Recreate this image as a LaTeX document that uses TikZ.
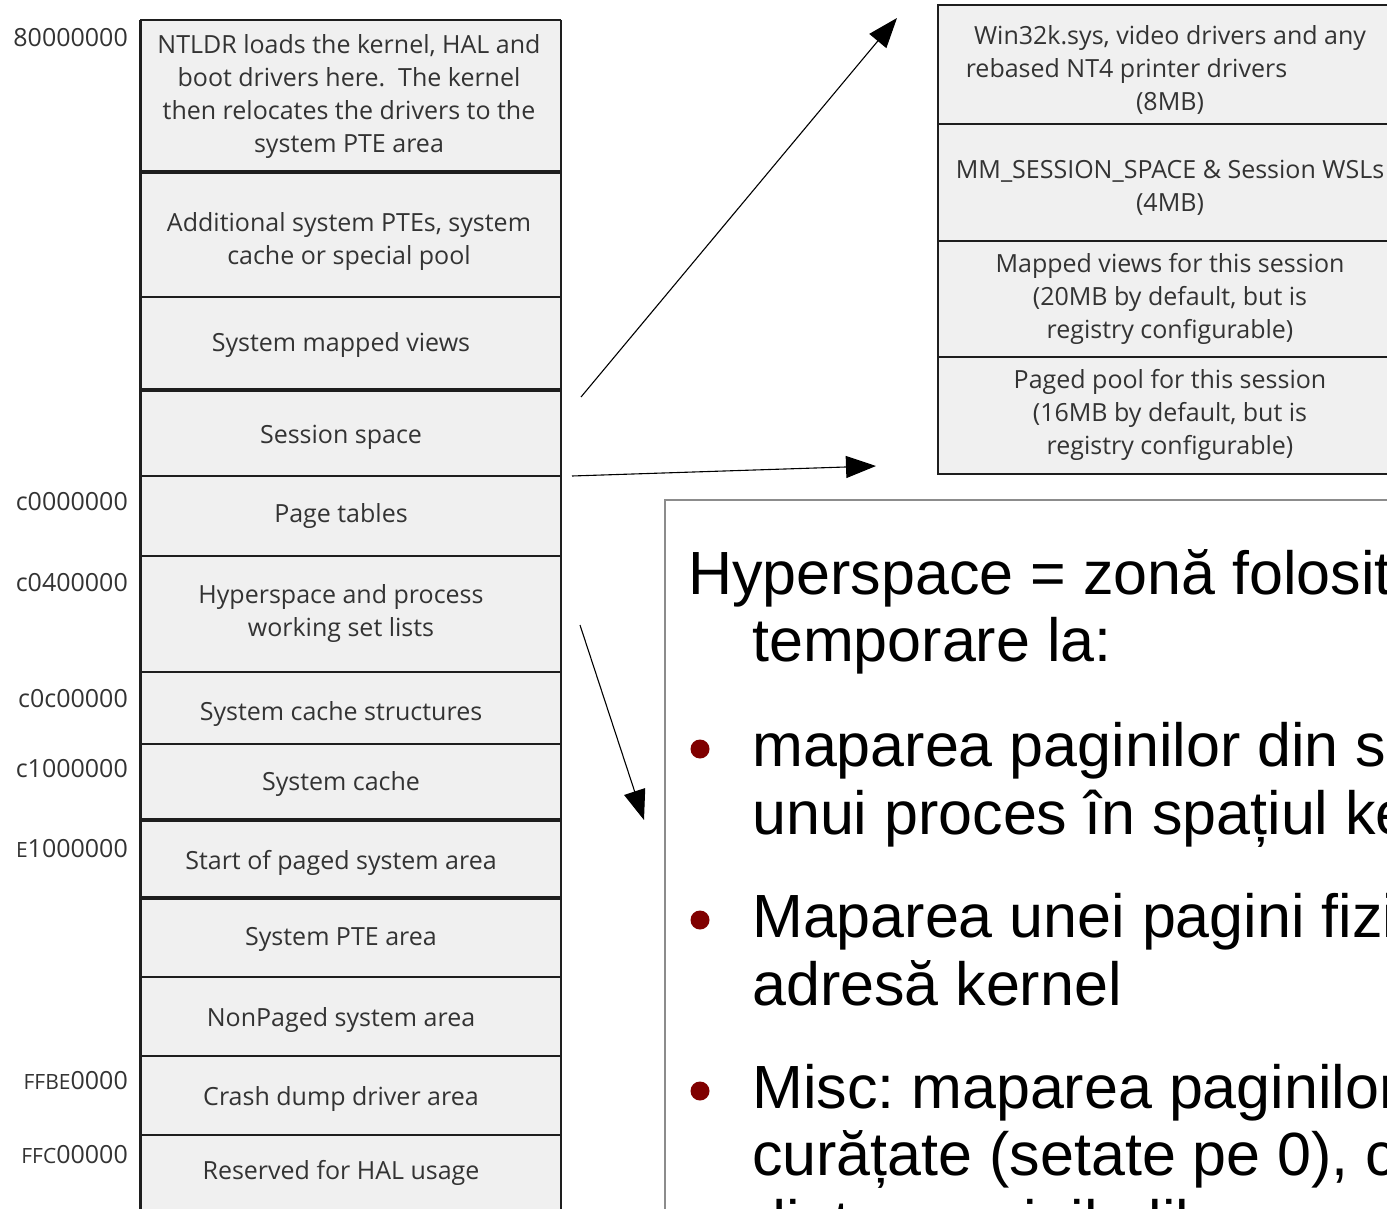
\documentclass[tikz,border=0pt]{standalone}
\usepackage{fontspec}
\setmainfont{Open Sans}
\newfontfamily\slidefont{Liberation Sans}
\usetikzlibrary{arrows.meta}
\definecolor{cellfill}{HTML}{F0F0F0}
\definecolor{rulecol}{HTML}{1E1E1E}
\definecolor{ink}{HTML}{333333}
\definecolor{bulletred}{HTML}{800000}
\definecolor{framegray}{HTML}{8C8C8C}
\frenchspacing
\begin{document}
\begin{tikzpicture}[x=1pt,y=-1pt,
  celltext/.style={font=\fontsize{25}{33}\selectfont, text=ink, align=center, inner sep=0pt},
  addr/.style={font=\fontsize{25}{28}\selectfont, text=ink, anchor=east, inner sep=0pt},
  sep/.style={draw=rulecol, line width=2.6pt},
  thicksep/.style={draw=rulecol, line width=4.5pt},
  pointer/.style={draw=black, line width=1.1pt, -{Triangle[length=30pt,width=22pt]}},
  slide/.style={font=\slidefont\fontsize{61}{68}\selectfont, anchor=base west, inner sep=0pt},
  dot/.style={circle, fill=bulletred, inner sep=0pt, minimum size=19pt},
]
\useasboundingbox (0,0) rectangle (1387,1209);
\clip (0,0) rectangle (1387,1209);

% ---- system address space column ----
\fill[cellfill] (140,20) rectangle (561,1230);
\foreach \y in {20,297,476,556,672,744,977,1056,1135} \draw[sep] (140,\y) -- (561,\y);
\foreach \y in {172,390,820,898} \draw[thicksep] (140,\y) -- (561,\y);
\draw[rulecol, line width=3pt] (140,20) -- (140,1230);
\draw[rulecol, line width=2pt] (561,20) -- (561,1230);

\node[celltext] (ntldr) at (349,97) {NTLDR loads the kernel, HAL and\\boot drivers here.\ \ The kernel\\then relocates the drivers to the\\system PTE area};
\node[celltext] (addpte) at (349,241.5) {Additional system PTEs, system\\cache or special pool};
\node[celltext] (sysmap) at (341,345) {System mapped views};
\node[celltext] (session) at (341,437) {Session space};
\node[celltext] (pagetab) at (341,516) {Page tables};
\node[celltext] (hyper) at (341,613.5) {Hyperspace and process\\working set lists};
\node[celltext] (cachestr) at (341,714) {System cache structures};
\node[celltext] (cache) at (341,784) {System cache};
\node[celltext] (paged) at (341,863) {Start of paged system area};
\node[celltext] (syspte) at (341,939) {System PTE area};
\node[celltext] (nonpaged) at (341,1020) {NonPaged system area};
\node[celltext] (crash) at (341,1099) {Crash dump driver area};
\node[celltext] (hal) at (341,1173) {Reserved for HAL usage};

% ---- start addresses ----
\node[addr] (a1) at (128,38) {80000000};
\node[addr] (a2) at (128,502) {c0000000};
\node[addr] (a3) at (128,583) {c0400000};
\node[addr] (a4) at (128,699) {c0c00000};
\node[addr] (a5) at (128,769) {c1000000};
\node[addr] (a6) at (128,849) {{\fontsize{21}{28}\selectfont E}1000000};
\node[addr] (a7) at (128,1081) {{\fontsize{21}{28}\selectfont FFBE}0000};
\node[addr] (a8) at (128,1155) {{\fontsize{21}{28}\selectfont FFC}00000};

% ---- session space detail ----
\fill[cellfill] (938,5) rectangle (1402,474);
\foreach \y in {124,241,357} \draw[sep] (938,\y) -- (1402,\y);
\draw[sep] (938,5) rectangle (1402,474);

\node[celltext] (win32k) at (1170,70) {Win32k.sys, video drivers and any\\rebased NT4 printer drivers\rule{87pt}{0pt}\\(8MB)};
\node[celltext] (mmsess) at (1170,187.5) {MM\_SESSION\_SPACE \& Session WSLs\\(4MB)};
\node[celltext] (views) at (1170,298.5) {Mapped views for this session\\(20MB by default, but is\\registry configurable)};
\node[celltext] (pool) at (1170,415) {Paged pool for this session\\(16MB by default, but is\\registry configurable)};

% ---- pointers ----
\coordinate (p1s) at (581,397);
\coordinate (p1e) at (897,18);
\coordinate (p2s) at (572,476);
\coordinate (p2e) at (876,466);
\coordinate (p3s) at (580,625);
\coordinate (p3e) at (644,820);
\draw[pointer] (p1s) -- (p1e);
\draw[pointer] (p2s) -- (p2e);
\draw[pointer] (p3s) -- (p3e);

% ---- hyperspace notes ----
\draw[framegray, line width=1.2pt, fill=white] (665,500) rectangle (1440,1240);
\node[slide] (l1) at (688,594) {Hyperspace = zonă folosită pentru mapări};
\node[slide] (l2) at (752,661) {temporare la:};
\node[dot] (b1) at (700,749) {};
\node[slide] (l3) at (752,766) {maparea paginilor din spațiul de adrese al};
\node[slide] (l4) at (752,834) {unui proces în spațiul kernel};
\node[dot] (b2) at (700,920) {};
\node[slide] (l5) at (752,937) {Maparea unei pagini fizice la o};
\node[slide] (l6) at (752,1005) {adresă kernel};
\node[dot] (b3) at (700,1091) {};
\node[slide] (l7) at (752,1108) {Misc: maparea paginilor care trebuie};
\node[slide] (l8) at (752,1175) {curățate (setate pe 0), când sunt luate};
\node[slide] (l9) at (752,1243) {dintre paginile libere};
\end{tikzpicture}
\end{document}
